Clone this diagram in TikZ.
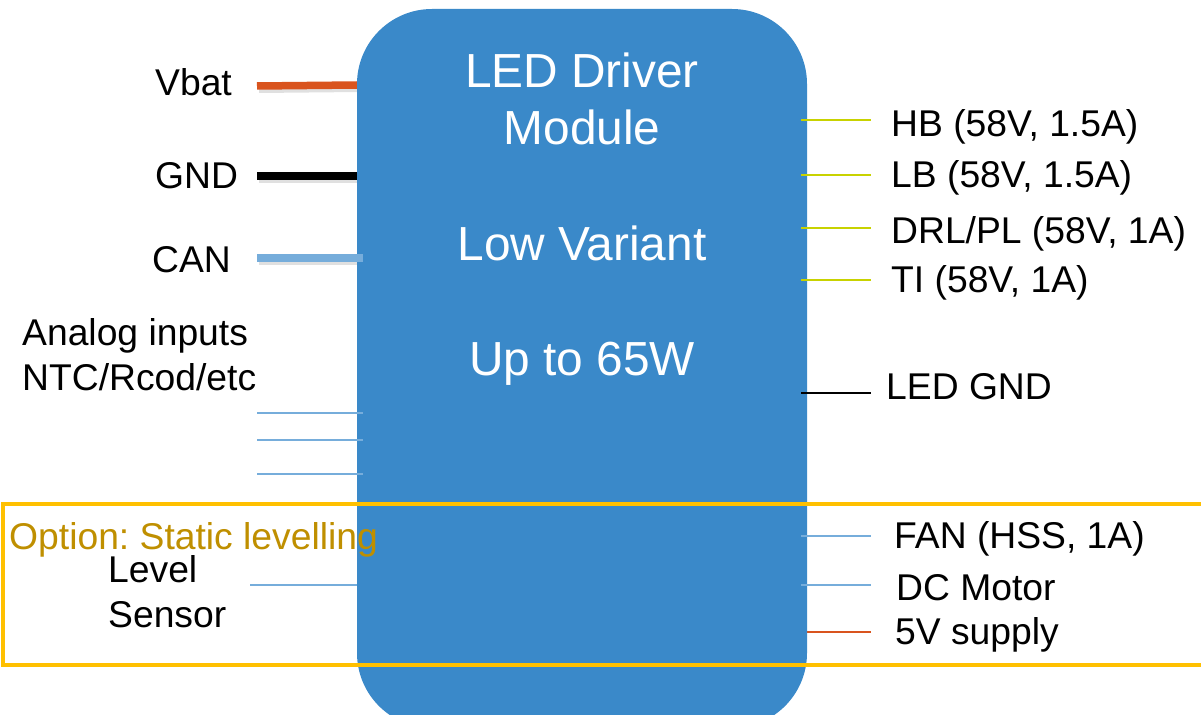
\documentclass[tikz,border=0pt]{standalone}
\usepackage{fontspec}
\setmainfont{Liberation Sans}
\frenchspacing
\definecolor{boxblue}{RGB}{58,137,201}
\definecolor{vorange}{RGB}{217,84,30}
\definecolor{lblue}{RGB}{118,173,219}
\definecolor{ygreen}{RGB}{200,210,0}
\definecolor{optgold}{RGB}{191,143,0}
\definecolor{optframe}{RGB}{255,192,0}
\tikzset{
  lbl/.style={anchor=base west, inner sep=0, font=\fontsize{37.4}{44}\selectfont},
  ctr/.style={anchor=base, inner sep=0, text=white, font=\fontsize{48}{57}\selectfont},
  thinwire/.style={line width=2bp},
  thickwire/.style={line width=7.5bp},
  wshadow/.style={line width=6bp, black, opacity=0.12},
}
\begin{document}
\begin{tikzpicture}[x=1bp, y=-1bp]
\useasboundingbox (0,0) rectangle (1201,715);
\clip (0,0) rectangle (1201,715);

% free ends of connectors
\coordinate (vbatL) at (257,86);   \coordinate (vbatR) at (357,85);
\coordinate (gndL)  at (257,176);  \coordinate (gndR)  at (357,176);
\coordinate (canL)  at (257,258);  \coordinate (canR)  at (363,258);
\coordinate (an1L)  at (257,413);  \coordinate (an1R)  at (363,413);
\coordinate (an2L)  at (257,440);  \coordinate (an2R)  at (363,440);
\coordinate (an3L)  at (257,474);  \coordinate (an3R)  at (363,474);
\coordinate (lvlL)  at (250,585);  \coordinate (lvlR)  at (357,585);
\coordinate (hbL)   at (801,120);  \coordinate (hbR)   at (871,120);
\coordinate (lbL)   at (801,175);  \coordinate (lbR)   at (871,175);
\coordinate (drlL)  at (801,228);  \coordinate (drlR)  at (871,228);
\coordinate (tiL)   at (801,280);  \coordinate (tiR)   at (871,280);
\coordinate (lgL)   at (801,393);  \coordinate (lgR)   at (871,393);
\coordinate (fanL)  at (801,536);  \coordinate (fanR)  at (871,536);
\coordinate (dcL)   at (801,585);  \coordinate (dcR)   at (871,585);
\coordinate (fvL)   at (801,632);  \coordinate (fvR)   at (871,632);

% shadows and wires behind the module
\draw[wshadow] ([shift={(2,4)}]vbatL) -- ([shift={(2,4)}]vbatR);
\draw[wshadow] ([shift={(2,4)}]gndL) -- ([shift={(2,4)}]gndR);
\draw[wshadow] ([shift={(2,4)}]canL) -- ([shift={(2,4)}]canR);
\draw[thickwire, vorange] (vbatL) -- (vbatR);
\draw[thickwire, black] (gndL) -- (gndR);
\draw[thinwire, lblue] (lvlL) -- (lvlR);
\draw[thinwire, vorange] (fvL) -- (fvR);

% module
\node[fill=boxblue, rounded corners=75bp, minimum width=450bp, minimum height=719bp,
      inner sep=0, outer sep=0] (drv) at (582,368.5) {};

% wires over the module
\draw[thickwire, lblue] (canL) -- (canR);
\draw[thinwire, lblue] (an1L) -- (an1R);
\draw[thinwire, lblue] (an2L) -- (an2R);
\draw[thinwire, lblue] (an3L) -- (an3R);
\draw[thinwire, ygreen] (hbL) -- (hbR);
\draw[thinwire, ygreen] (lbL) -- (lbR);
\draw[thinwire, ygreen] (drlL) -- (drlR);
\draw[thinwire, ygreen] (tiL) -- (tiR);
\draw[thinwire, black] (lgL) -- (lgR);
\draw[thinwire, lblue] (fanL) -- (fanR);
\draw[thinwire, lblue] (dcL) -- (dcR);

% module texts
\node[ctr] (t1) at (582,88)  {LED Driver};
\node[ctr] (t2) at (582,145) {Module};
\node[ctr] (t3) at (582,260) {Low Variant};
\node[ctr] (t4) at (582,375) {Up to 65W};

% left labels
\node[lbl] (vbat) at (155,96)  {Vbat};
\node[lbl] (gnd)  at (155,189) {GND};
\node[lbl] (can)  at (152,272) {CAN};
\node[lbl] (ana1) at (22,345)  {Analog inputs};
\node[lbl] (ana2) at (22,390)  {NTC/Rcod/etc};
\node[lbl] (lvl1) at (108,582) {Level};
\node[lbl] (lvl2) at (108,627) {Sensor};

% right labels
\node[lbl] (hb)   at (891,137) {HB (58V, 1.5A)};
\node[lbl] (lb)   at (891,188) {LB (58V, 1.5A)};
\node[lbl] (drl)  at (891,243) {DRL/PL (58V, 1A)};
\node[lbl] (ti)   at (891,292) {TI (58V, 1A)};
\node[lbl] (lg)   at (886,399) {LED GND};
\node[lbl] (fan)  at (894,548) {FAN (HSS, 1A)};
\node[lbl] (dc)   at (896,600) {DC Motor};
\node[lbl] (fv)   at (895,644) {5V supply};

% option frame
\draw[optframe, line width=4.5bp] (3,504) rectangle (1215,665);
\node[lbl, text=optgold] (opt) at (9,549) {Option: Static levelling};
\end{tikzpicture}
\end{document}
